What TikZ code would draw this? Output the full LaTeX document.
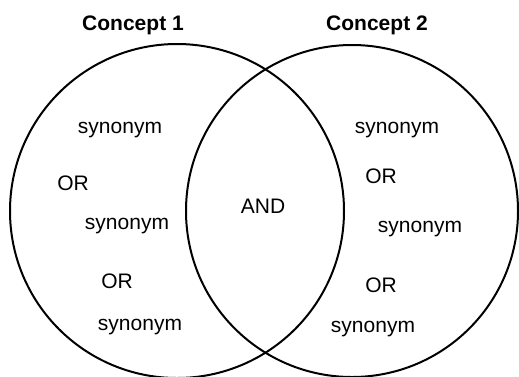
\documentclass[tikz,border=0pt]{standalone}
\usepackage{fontspec}
\setmainfont{Liberation Sans}
\usetikzlibrary{positioning}

\def\txtsize{\fontsize{21}{25}\selectfont}

\begin{document}
\begin{tikzpicture}[x=1pt,y=-1pt,line width=2pt]
    \tikzstyle{concept}=[circle,draw=black,inner sep=0pt]
    \tikzstyle{word}=[anchor=base,inner sep=0pt,font=\txtsize]
    \tikzstyle{title}=[word,font=\txtsize\bfseries]

    \useasboundingbox (0,0) rectangle (519,376);

    % Draw the two concept circles
    \node[concept,minimum size=334pt] (L) at (177,211) {};
    \node[concept,minimum size=332pt] (R) at (352,211) {};

    % Titles above the circles
    \node[title] (T-1) at (133,30) {Concept 1};
    \node[title] (T-2) at (377,30) {Concept 2};

    % Terms of the first concept
    \foreach \name / \x / \y / \txt in {1/120/133/synonym,2/73/190/OR,3/127/229/synonym,4/117/288/OR,5/140/330/synonym}
        \node[word] (L-\name) at (\x,\y) {\txt};

    % Terms of the second concept
    \foreach \name / \x / \y / \txt in {1/397/133/synonym,2/381/183/OR,3/420/232/synonym,4/381/292/OR,5/373/332/synonym}
        \node[word] (R-\name) at (\x,\y) {\txt};

    % The overlap
    \node[word] (and) at (263,213) {AND};
\end{tikzpicture}
\end{document}
